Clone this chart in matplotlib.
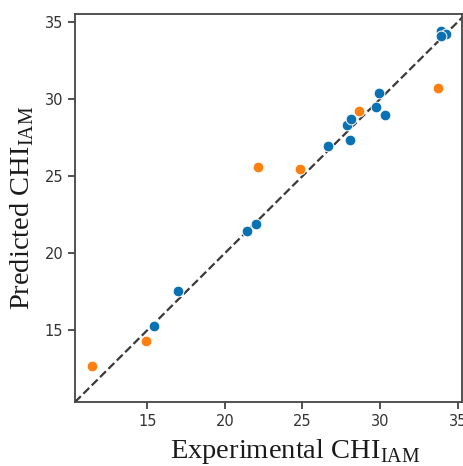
import matplotlib
matplotlib.use("Agg")
import matplotlib.pyplot as plt

# Data
blue_x = [15.45, 17.0, 21.42, 22.02, 26.62, 27.84, 28.12, 28.04, 29.72, 29.94, 30.3, 33.92, 34.24, 33.95]
blue_y = [15.26, 17.53, 21.43, 21.9, 26.95, 28.29, 28.68, 27.36, 29.5, 30.37, 28.94, 34.42, 34.2, 34.11]
orange_x = [11.42, 14.9, 22.15, 24.83, 28.62, 33.71]
orange_y = [12.68, 14.31, 25.58, 25.45, 29.22, 30.73]

x_limits = (10.34, 35.28)
y_limits = (10.34, 35.52)
ticks = [15, 20, 25, 30, 35]

plt.rcParams['font.family'] = ['DejaVu Sans']
plt.rcParams['mathtext.fontset'] = 'custom'
plt.rcParams['mathtext.rm'] = 'Liberation Serif'

fig = plt.figure(figsize=(4.63, 4.66), dpi=100)
ax = fig.add_axes([75/463, (466-402)/466, (462-75)/463, (402-14)/466])

ax.plot([y_limits[0], y_limits[1]], [y_limits[0], y_limits[1]], ls='--', color='#3a3a3a', lw=1.6, zorder=1)
ax.scatter(blue_x, blue_y, s=60, color='#0a72b3', edgecolors='white', linewidths=0.7, zorder=3)
ax.scatter(orange_x, orange_y, s=60, color='#fd7f10', edgecolors='white', linewidths=0.7, zorder=3)

ax.set_xlim(*x_limits)
ax.set_ylim(*y_limits)
ax.set_xticks(ticks)
ax.set_yticks(ticks)
ax.tick_params(labelsize=10.5, colors='#333333', length=5, width=1.2)
for sp in ax.spines.values():
    sp.set_color('#444444')
    sp.set_linewidth(1.3)

ax.set_xlabel(r'Experimental CHI$_{\mathrm{IAM}}$', family='Liberation Serif', fontsize=20.5, color='#1a1a1a', labelpad=6)
ax.xaxis.label.set_x(0.568)
ax.set_ylabel(r'Predicted CHI$_{\mathrm{IAM}}$', family='Liberation Serif', fontsize=20.5, color='#1a1a1a', labelpad=6)

fig.savefig('out.png', dpi=100)
